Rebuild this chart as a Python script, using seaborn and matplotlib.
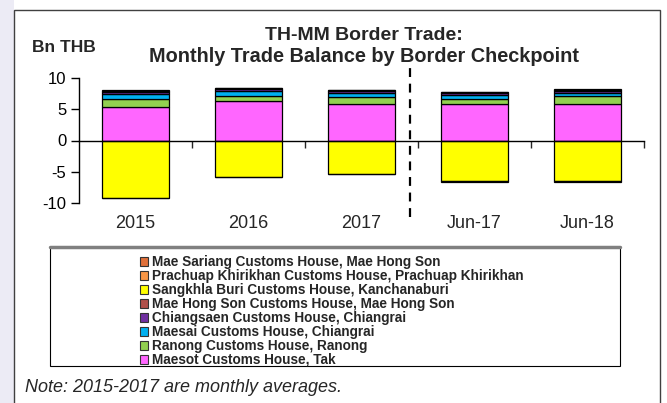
import numpy as np
import pandas as pd
import seaborn as sns
import matplotlib.pyplot as plt
from matplotlib.patches import Rectangle, Patch

periods = ['2015', '2016', '2017', 'Jun-17', 'Jun-18']

# Bn THB, bottom-to-top stacking order
checkpoints = [
    'Maesot Customs House, Tak',
    'Ranong Customs House, Ranong',
    'Maesai Customs House, Chiangrai',
    'Chiangsaen Customs House, Chiangrai',
    'Mae Hong Son Customs House, Mae Hong Son',
    'Sangkhla Buri Customs House, Kanchanaburi',
    'Prachuap Khirikhan Customs House, Prachuap Khirikhan',
    'Mae Sariang Customs House, Mae Hong Son',
]
maesot = [5.4, 6.3, 5.85, 5.8, 5.8]
ranong = [1.2, 0.9, 1.15, 0.85, 1.3]
maesai = [0.8, 0.65, 0.6, 0.6, 0.55]
chiangsaen = [0.3, 0.4, 0.35, 0.35, 0.35]
mae_hong_son = [0.3, 0.2, 0.15, 0.15, 0.15]
sangkhla = [-9.15, -5.8, -5.3, -6.5, -6.45]
prachuap = [-0.05, -0.1, -0.1, -0.15, -0.2]
mae_sariang = [0.02, 0.02, 0.02, 0.02, 0.02]

colors = ['#FF66FF', '#92D050', '#00B0F0', '#7030A0', '#B0504A',
          '#FFFF00', '#F79646', '#E0703A']

series = [maesot, ranong, maesai, chiangsaen, mae_hong_son,
          sangkhla, prachuap, mae_sariang]

sns.set_style('white')
plt.rcParams['font.family'] = ['Liberation Sans', 'DejaVu Sans']
plt.rcParams['axes.unicode_minus'] = False

fig = plt.figure(figsize=(6.67, 4.03), dpi=100)

# background watermark strip and chart frame
fig.patches.append(Rectangle((0, 0), 14 / 667, 1, transform=fig.transFigure,
                             facecolor='#ECEBF5', edgecolor='none', zorder=-3))
fig.patches.append(Rectangle((14 / 667, -0.01), 646 / 667, 1 - 10 / 403 + 0.01,
                             transform=fig.transFigure, facecolor='white',
                             edgecolor='#404040', lw=1.0, zorder=-2))

ax = fig.add_axes([79 / 667, 1 - 203 / 403, 565 / 667, 125 / 403])
ax.set_facecolor('none')

pos_base = np.zeros(len(periods))
neg_base = np.zeros(len(periods))
for name, vals, c in zip(checkpoints, series, colors):
    vals = np.array(vals)
    bottoms = np.where(vals >= 0, pos_base, neg_base)
    df = pd.DataFrame({'period': periods, 'value': vals})
    sns.barplot(data=df, x='period', y='value', order=periods, bottom=bottoms,
                color=c, saturation=1, width=0.585, edgecolor='black',
                linewidth=0.9, errorbar=None, ax=ax)
    pos_base = pos_base + np.where(vals >= 0, vals, 0)
    neg_base = neg_base + np.where(vals < 0, vals, 0)

ax.set_xlim(-0.5, 4.5)
ax.set_ylim(-10, 10)
ax.set_yticks([-10, -5, 0, 5, 10])
ax.tick_params(axis='y', left=True, direction='out', length=6, width=1,
               labelsize=12, pad=3, colors='black')
ax.set_xlabel('')
ax.set_ylabel('')

for s in ['top', 'right']:
    ax.spines[s].set_visible(False)
ax.spines['left'].set_color('black')
ax.spines['left'].set_linewidth(1)
ax.spines['bottom'].set_position(('data', 0))
ax.spines['bottom'].set_color('black')
ax.spines['bottom'].set_linewidth(1)
ax.set_xticks([0.5, 1.5, 2.5, 3.5, 4.5])
ax.set_xticklabels([])
ax.tick_params(axis='x', bottom=True, direction='out', length=5, width=1)

sec = ax.secondary_xaxis(0)
sec.set_xticks(range(len(periods)))
sec.set_xticklabels(periods)
sec.tick_params(length=0, pad=9, labelsize=13)
sec.spines['bottom'].set_visible(False)

# separator between annual averages and June values
ax.axvline(2.43, ymin=-0.11, ymax=1.08, color='black', lw=1.6,
           ls=(0, (4, 3)), clip_on=False)

fig.text(364 / 667, 1 - 35 / 403, 'TH-MM Border Trade:', ha='center', va='center',
         fontsize=14, fontweight='bold')
fig.text(364 / 667, 1 - 57 / 403, 'Monthly Trade Balance by Border Checkpoint',
         ha='center', va='center', fontsize=14.3, fontweight='bold')
fig.text(32 / 667, 1 - 48 / 403, 'Bn THB', ha='left', va='center',
         fontsize=12.5, fontweight='bold')

# legend box
fig.patches.append(Rectangle((50 / 667, 1 - 366 / 403), 570 / 667, 119 / 403,
                             transform=fig.transFigure, facecolor='white',
                             edgecolor='black', lw=0.8, zorder=-1))
fig.lines.append(plt.Line2D([50 / 667, 620 / 667], [1 - 247 / 403] * 2,
                            transform=fig.transFigure, color='#808080', lw=2.5))
handles = [Patch(facecolor=c, edgecolor='#333333', lw=0.8)
           for c in colors[::-1]]
fig.legend(handles, checkpoints[::-1], loc='upper left',
           bbox_to_anchor=(140 / 667, 1 - 255 / 403), frameon=False,
           prop={'weight': 'bold', 'size': 9.8}, handlelength=0.6,
           handleheight=0.6, handletextpad=0.3, labelspacing=0.0,
           borderpad=0, borderaxespad=0)

fig.text(25 / 667, 1 - 387 / 403, 'Note: 2015-2017 are monthly averages.',
         ha='left', va='center', fontsize=13, style='italic')

fig.savefig('out.png', dpi=100)
